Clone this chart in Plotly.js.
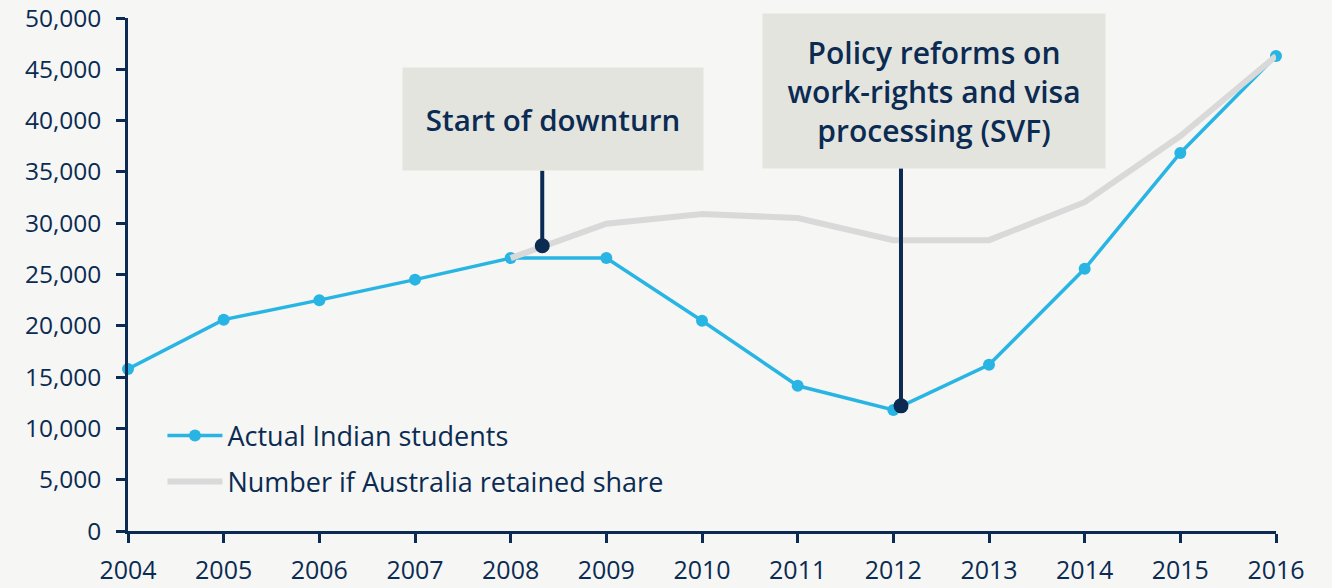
<!DOCTYPE html>
<html><head><meta charset="utf-8">
<script src="https://cdn.plot.ly/plotly-3.0.1.min.js"></script>
<style>html,body{margin:0;padding:0;background:#f6f6f4;}#chart{width:1332px;height:588px;}</style>
</head><body><div id="chart"></div>
<script>
const years = [2004,2005,2006,2007,2008,2009,2010,2011,2012,2013,2014,2015,2016];
const actualStudents = [15800,20600,22500,24500,26600,26600,20500,14150,11800,16200,25550,36850,46300];
const retainedYears = [2008,2009,2010,2011,2012,2013,2014,2015,2016];
const retainedShare = [26600,29950,30900,30500,28350,28350,32050,38500,46300];
const yTicks = [0,5000,10000,15000,20000,25000,30000,35000,40000,45000,50000];
const yTickLabels = ['0','5,000','10,000','15,000','20,000','25,000','30,000','35,000','40,000','45,000','50,000'];
const calloutText = ['Start of downturn','Policy reforms on<br>work-rights and visa<br>processing (SVF)'];
const calloutPointX = [2008.33, 2012.08];
const calloutPointY = [27800, 12200];
const calloutBoxX = [2008.44, 2012.42];
const calloutBoxY = [40135, 42860];
const calloutBoxBottom = [35120, 35360];
const calloutBoxW = [300, 342];
const calloutBoxH = [102, 154];
const calloutFont = [29.5, 30];

const navy = '#0b2b52';
const font = 'Open Sans, Noto Sans, sans-serif';

const traces = [
  {x: years, y: actualStudents, name: 'Actual Indian students', type: 'scatter', mode: 'lines+markers',
   legendgroup: 'a', line: {color: '#29b5e3', width: 3.5}, marker: {color: '#29b5e3', size: 12}, cliponaxis: false},
  {x: retainedYears, y: retainedShare, name: 'Number if Australia retained share', type: 'scatter', mode: 'lines',
   legendgroup: 'b', line: {color: '#d9d9d9', width: 6}}
];
const cx = [], cy = [];
for (let i = 0; i < calloutPointX.length; i++) {
  cx.push(calloutPointX[i], calloutPointX[i], null);
  cy.push(calloutBoxBottom[i], calloutPointY[i], null);
}
traces.push({x: cx, y: cy, type: 'scatter', mode: 'lines', line: {color: navy, width: 4}, showlegend: false, hoverinfo: 'skip', cliponaxis: false});
traces.push({x: calloutPointX, y: calloutPointY, type: 'scatter', mode: 'markers', marker: {color: navy, size: 15}, showlegend: false, hoverinfo: 'skip'});

const annotations = calloutText.map((t, i) => ({
  x: calloutBoxX[i], y: calloutBoxY[i], xref: 'x', yref: 'y', text: t, showarrow: false,
  xanchor: 'center', yanchor: 'middle', width: calloutBoxW[i], height: calloutBoxH[i],
  bgcolor: '#e4e4df', borderpad: 0, align: 'center', valign: 'middle',
  font: {family: font, size: calloutFont[i], color: navy, weight: 600}
}));

const layout = {
  width: 1332, height: 588,
  paper_bgcolor: '#f6f6f4', plot_bgcolor: '#f6f6f4',
  margin: {l: 128, r: 56, t: 18, b: 57},
  font: {family: font, color: navy, size: 25},
  showlegend: true,
  legend: {x: 0.03, y: 0.233, xanchor: 'left', yanchor: 'top', bgcolor: 'rgba(0,0,0,0)',
           font: {family: font, size: 27, color: navy}, tracegroupgap: 8, itemwidth: 55},
  xaxis: {range: [2004, 2016], tickvals: years, ticktext: years.map(String), showgrid: false, zeroline: false,
          showline: true, linecolor: navy, linewidth: 2.5, ticks: 'outside', ticklen: 9, tickwidth: 2.5, tickcolor: navy,
          tickfont: {size: 25, color: navy}, ticklabelstandoff: 6, ticklabeloverflow: 'allow'},
  yaxis: {range: [0, 50000], tickvals: yTicks, ticktext: yTickLabels, showgrid: false, zeroline: false,
          showline: true, linecolor: navy, linewidth: 2.5, ticks: 'outside', ticklen: 9, tickwidth: 2.5, tickcolor: navy,
          tickfont: {size: 24.5, color: navy}, ticklabelstandoff: 10, ticklabeloverflow: 'allow'},
  annotations: annotations
};
Plotly.newPlot('chart', traces, layout, {displayModeBar: false});
</script></body></html>
